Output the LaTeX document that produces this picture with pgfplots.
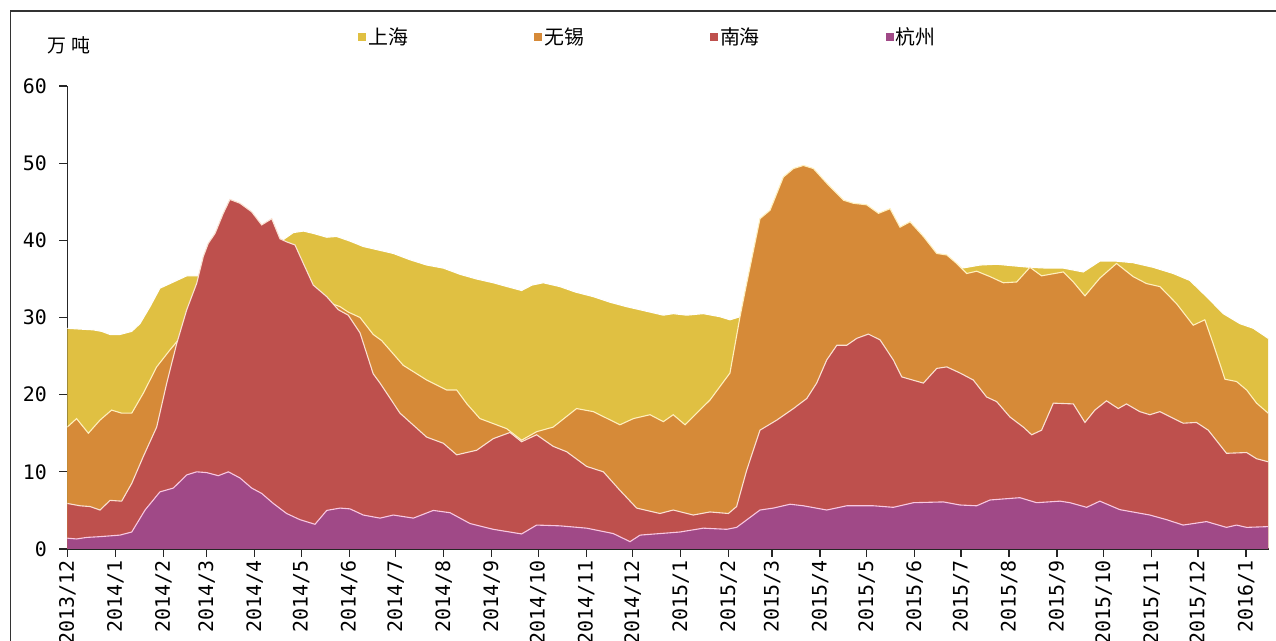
\documentclass[border=0pt]{standalone}
\usepackage{pgfplots}
\pgfplotsset{compat=1.18}
\usepackage{pgfplotstable}
\usepackage{fontspec}
\setmainfont{DejaVu Sans}
\newfontfamily\tickfont{DejaVu Sans Mono}
\newfontfamily\cjk{Noto Sans CJK SC}

\definecolor{cSH}{RGB}{224,192,66}
\definecolor{cWX}{RGB}{214,138,56}
\definecolor{cNH}{RGB}{190,80,77}
\definecolor{cHZ}{RGB}{160,73,135}
\definecolor{lWX}{RGB}{255,240,190}
\definecolor{lNH}{RGB}{250,225,210}
\definecolor{lHZ}{RGB}{248,200,225}

% x = days since 2013-12-01
\pgfplotstableread{
d v
0 28.6
8 28.5
16.8 28.4
22.2 28.2
27.6 27.8
34.0 27.8
41.6 28.2
46.9 29.2
53.4 31.4
59.8 33.8
68.5 34.6
77.1 35.4
84.6 35.4
95 36.5
110 38.0
125 39.0
135 39.6
139.5 40.1
145.9 41.0
152.4 41.2
158.8 40.9
167.5 40.4
173.9 40.5
182.5 39.9
191.1 39.2
201.9 38.7
210.5 38.3
221 37.5
232.0 36.8
242.8 36.4
253.5 35.6
264 35.0
275.0 34.5
284 34.0
293.3 33.5
300 34.2
307.3 34.5
318.1 34.0
328 33.3
339.6 32.7
350 32.0
361.1 31.4
372 30.9
384.8 30.3
391.2 30.5
399.9 30.3
410.6 30.5
421.4 30.1
427.8 29.7
434.3 30.1
450 30.5
480 32.0
510 33.5
540 35.0
565 36.0
580.7 36.5
589.3 36.8
600.0 36.9
610.7 36.7
621.5 36.5
632.3 36.4
643.0 36.4
655.9 35.9
666.6 37.3
677.4 37.3
688.1 37.1
701.1 36.5
714.0 35.7
724.7 34.8
735.5 32.7
746.3 30.5
757.1 29.2
765.7 28.6
775.3 27.3
}\sh

\pgfplotstableread{
d v
0 15.8
6.0 16.9
13.6 15.0
21.1 16.7
28.6 18.0
35.1 17.6
41.6 17.6
49.1 20.2
57.7 23.6
66.3 25.8
71.7 27.1
85 29.0
105 31.0
130 32.0
155 32.5
168 32.0
176.1 31.4
181.4 30.7
189.0 30.0
197.5 27.8
203 27.0
216.9 23.8
232.0 21.9
244.9 20.6
251.4 20.6
258 18.8
266.4 16.9
283.6 15.6
293.3 14.1
303.0 15.2
313.7 15.8
328.8 18.2
339.6 17.8
356.8 16.1
365.5 16.9
376.2 17.4
384.8 16.5
391.2 17.4
398.8 16.1
406.3 17.6
414.9 19.3
427.8 22.8
434.3 30.1
438.6 34.4
447.2 42.8
453.7 43.9
462.3 48.2
468.8 49.3
475.2 49.7
481.7 49.3
490.3 47.4
501.1 45.2
507.5 44.8
516.1 44.6
523.7 43.5
531.2 44.1
537.6 41.7
544.1 42.4
552.7 40.5
561.3 38.3
567.8 38.1
574.2 37.0
580.7 35.7
587.1 36.0
595.7 35.3
604.3 34.5
612.9 34.6
621.5 36.5
629.0 35.4
643.0 35.9
649.5 34.6
657.0 32.8
666.6 35.1
677.4 37.0
688.1 35.3
696.7 34.4
705.4 34.0
716.1 31.8
726.9 29.0
734.4 29.7
739.8 26.6
747.4 22.0
754.9 21.7
761.4 20.6
767.8 18.9
775.3 17.6
}\wx

\pgfplotstableread{
d v
0 5.9
8.2 5.6
14.7 5.5
21.1 5.05
27.6 6.3
35.1 6.2
41.6 8.5
49.1 12.0
57.7 15.8
64.2 21.5
70.6 26.6
77.1 31.0
83.5 34.4
87.8 37.9
91.0 39.6
95.4 40.9
100.7 43.5
105.0 45.3
111.5 44.8
119.0 43.7
125.5 42.0
132.0 42.8
137.3 40.2
141.6 39.8
147.0 39.4
152.4 37.0
158.8 34.2
167.5 32.7
175.0 31.0
181.4 30.3
189.0 28.0
197.5 22.7
201.9 21.5
214.8 17.6
232.0 14.5
242.8 13.7
251.4 12.2
264.3 12.8
275.0 14.3
285.8 15.1
293.3 13.9
303.0 14.8
313.7 13.3
322.4 12.6
335.3 10.7
346.1 10.0
356.8 7.6
367.6 5.3
382.6 4.6
391.2 5.05
404.1 4.4
414.9 4.8
426.8 4.6
432.1 5.5
438.6 10.2
447.2 15.4
458.0 16.7
468.8 18.2
477.4 19.5
483.8 21.5
490.3 24.5
496.8 26.4
503.2 26.4
509.7 27.3
517.2 27.85
524.7 27.1
533.3 24.5
538.7 22.3
552.7 21.5
561.3 23.4
567.8 23.6
576.4 22.8
584.9 21.9
593.5 19.7
600.0 19.1
608.6 17.1
617.2 15.8
622.6 14.8
629.0 15.4
636.6 18.9
649.5 18.8
657.0 16.4
663.4 18.0
670.9 19.2
678.5 18.2
683.8 18.8
692.4 17.8
698.9 17.4
705.4 17.8
720.4 16.3
729.0 16.4
736.6 15.4
748.4 12.4
761.4 12.5
767.8 11.7
775.3 11.3
}\nh

\pgfplotstableread{
d v
0 1.4
6 1.3
12.5 1.5
21.1 1.6
34.0 1.8
41.6 2.2
50.2 5.05
59.8 7.4
68.5 7.9
77.1 9.6
83.5 10.0
90.0 9.9
97.5 9.5
104.0 10.0
111.5 9.2
119.0 7.9
125.5 7.2
133.0 5.9
141.6 4.6
150.2 3.8
159.9 3.2
167.5 5.0
176.1 5.3
182.5 5.2
191.1 4.4
201.9 4.0
210.5 4.4
223.4 4.0
236.3 5.0
247.1 4.7
260.0 3.3
275.0 2.55
293.3 1.95
303.0 3.1
318.1 3.0
335.3 2.7
352.5 2.0
363.3 0.95
369.8 1.8
382.6 2.0
395.5 2.2
410.6 2.7
425.7 2.55
432.1 2.8
447.2 5.05
455.8 5.3
466.6 5.8
475.2 5.6
490.3 5.05
503.2 5.6
520.4 5.6
533.3 5.4
546.3 6.0
565.6 6.1
576.4 5.7
587.1 5.6
595.7 6.35
615.0 6.65
625.8 6.0
640.9 6.2
647.3 6.0
658.1 5.4
666.6 6.2
679.5 5.1
698.9 4.4
709.7 3.8
720.4 3.1
735.5 3.55
748.4 2.8
754.9 3.1
761.4 2.8
775.3 2.9
}\hz

\begin{document}
\begin{tikzpicture}[x=1bp,y=1bp]
\useasboundingbox (0,0) rectangle (1276,641);
\begin{scope}
\clip (0,0) rectangle (1276,641);
\fill[white] (0,0) rectangle (1276,641);
\draw[line width=1.5bp, black!80] (10.5,-20) -- (10.5,630) -- (1300,630);
\begin{axis}[
  at={(67.3bp,92bp)}, anchor=south west, scale only axis,
  width=1202bp, height=463bp,
  xmin=0, xmax=776, ymin=0, ymax=60,
  axis x line*=bottom, axis y line*=left,
  axis line style={line width=1.3bp, black!85},
  tick align=outside, major tick length=8bp,
  tick style={line width=1.3bp, black!85},
  xtick={0,31,62,90,121,151,182,212,243,274,304,335,365,396,427,455,486,516,547,577,608,639,669,700,730,761},
  xticklabels={2013/12,2014/1,2014/2,2014/3,2014/4,2014/5,2014/6,2014/7,2014/8,2014/9,2014/10,2014/11,2014/12,2015/1,2015/2,2015/3,2015/4,2015/5,2015/6,2015/7,2015/8,2015/9,2015/10,2015/11,2015/12,2016/1},
  ytick={0,10,...,60},
  /pgf/number format/assume math mode=true,
  ticklabel style={font=\tickfont\fontsize{20}{20}\selectfont},
  xticklabel style={rotate=90, anchor=east},
  yticklabel style={xshift=-9bp},
  legend columns=4,
  legend image code/.code={\fill[#1] (0bp,-4bp) rectangle (8bp,4bp);},
  legend style={draw=none, fill=none, at={(0.2395,1.106)}, anchor=west,
    font=\cjk\fontsize{20}{20}\selectfont,
    /tikz/every even column/.append style={column sep=124bp}},
]
\addplot[fill=cSH, draw=none] table[x=d,y=v]{\sh} \closedcycle;
\addlegendentry{上海}
\addplot[draw=white, line width=1.1bp, forget plot] table[x=d,y=v]{\sh};
\addplot[fill=cWX, draw=none] table[x=d,y=v]{\wx} \closedcycle;
\addlegendentry{无锡}
\addplot[draw=lWX, line width=1.1bp, forget plot] table[x=d,y=v]{\wx};
\addplot[fill=cNH, draw=none] table[x=d,y=v]{\nh} \closedcycle;
\addlegendentry{南海}
\addplot[draw=lNH, line width=1.1bp, forget plot] table[x=d,y=v]{\nh};
\addplot[fill=cHZ, draw=none] table[x=d,y=v]{\hz} \closedcycle;
\addlegendentry{杭州}
\addplot[draw=lHZ, line width=1.1bp, forget plot] table[x=d,y=v]{\hz};
\end{axis}
\node[font=\cjk\fontsize{19}{19}\selectfont, inner sep=0pt] at (69,596) {万\hspace{5bp}吨};
\end{scope}
\end{tikzpicture}
\end{document}
